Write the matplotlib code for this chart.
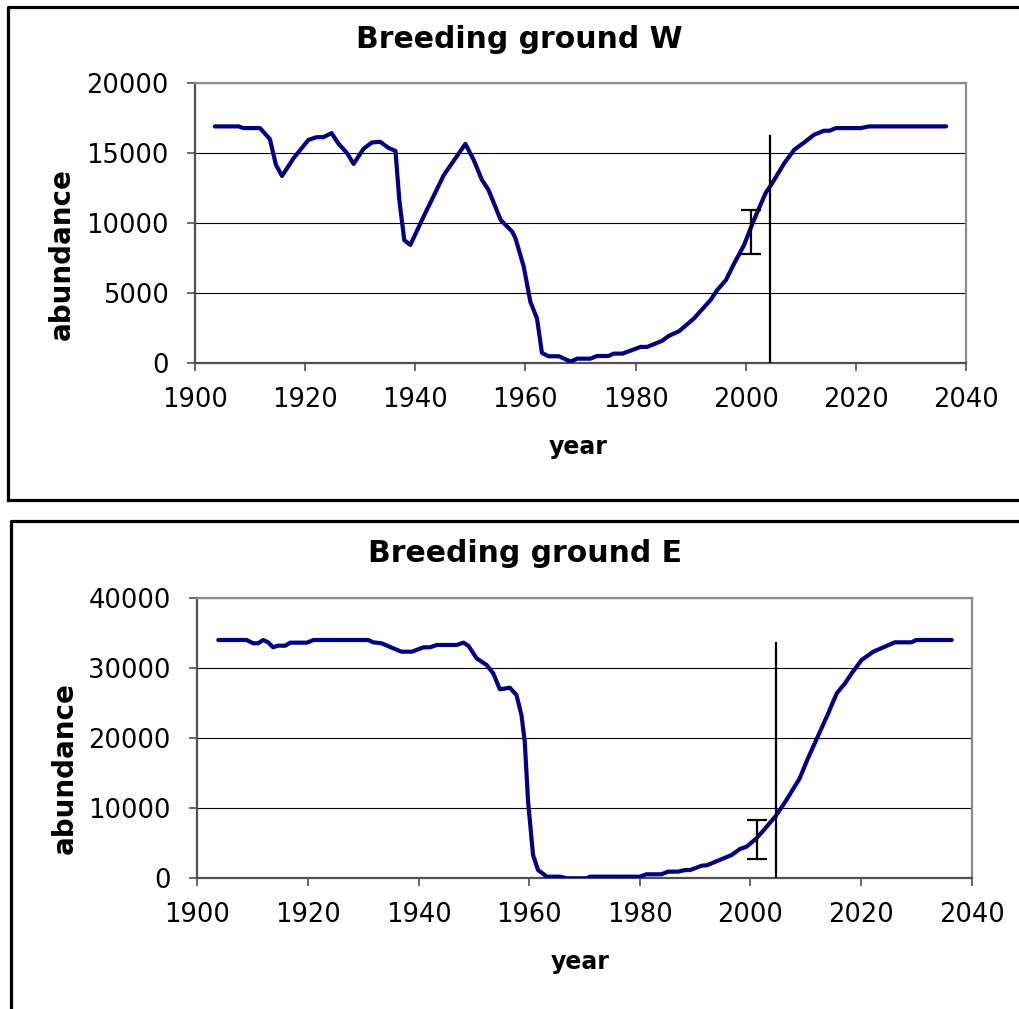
import numpy as np
import matplotlib.pyplot as plt
from matplotlib.lines import Line2D

# Breeding ground W
w_years = [1903.6, 1907.9, 1908.8, 1911.8, 1913.6, 1914.7, 1915.8, 1917.9, 1920.6, 1922.1,
           1923.3, 1924.8, 1926.0, 1927.6, 1928.8, 1930.6, 1932.1, 1933.6, 1935.2, 1936.4,
           1937.1, 1938.0, 1939.1, 1941.5, 1945.2, 1949.1, 1950.6, 1952.1, 1953.3, 1955.5,
           1957.6, 1958.2, 1959.7, 1960.9, 1962.1, 1963.0, 1964.2, 1966.1, 1968.2, 1969.4,
           1971.8, 1973.0, 1975.1, 1976.0, 1977.6, 1978.8, 1980.9, 1982.1, 1984.8, 1986.0,
           1987.9, 1990.6, 1992.1, 1993.6, 1994.8, 1996.4, 1997.9, 1999.7, 2001.5, 2003.6,
           2004.8, 2007.0, 2008.8, 2010.6, 2012.4, 2014.2, 2015.2, 2016.4, 2020.9, 2022.4,
           2036.4]
w_vals = [16900, 16900, 16780, 16780, 15990, 14150, 13360, 14630, 15940, 16130,
          16130, 16420, 15700, 14990, 14220, 15300, 15750, 15800, 15350, 15150,
          11650, 8780, 8430, 10450, 13440, 15650, 14510, 13080, 12360, 10220,
          9380, 8900, 6870, 4370, 3180, 720, 480, 480, 100, 310,
          310, 500, 500, 670, 670, 840, 1150, 1150, 1580, 1930,
          2270, 3180, 3840, 4490, 5200, 5920, 7110, 8430, 10220, 12130,
          12840, 14270, 15230, 15750, 16300, 16590, 16590, 16780, 16780, 16900,
          16900]
w_now_year, w_now_top = 2004.5, 16230
w_err_year, w_err_lo, w_err_hi = 2001.0, 7760, 10930

# Breeding ground E
e_years = [1903.8, 1908.9, 1910.1, 1911.0, 1911.9, 1912.8, 1913.7, 1914.6, 1915.9, 1916.8,
           1919.8, 1921.0, 1930.9, 1931.8, 1933.3, 1936.9, 1938.8, 1940.9, 1942.1, 1943.3,
           1946.9, 1948.1, 1949.0, 1950.5, 1951.4, 1952.3, 1953.5, 1954.7, 1956.5, 1957.7,
           1958.6, 1959.2, 1959.8, 1960.7, 1961.6, 1963.2, 1965.6, 1966.8, 1970.4, 1971.0,
           1980.0, 1981.2, 1983.9, 1985.1, 1986.9, 1988.2, 1989.1, 1991.2, 1992.1, 1996.6,
           1998.1, 1999.3, 2001.1, 2003.2, 2004.7, 2006.5, 2008.9, 2010.4, 2012.3, 2013.8,
           2015.6, 2017.1, 2018.3, 2020.1, 2022.2, 2024.3, 2026.1, 2029.1, 2030.0, 2036.4]
e_vals = [33970, 33970, 33500, 33500, 33970, 33640, 32930, 33160, 33160, 33590,
          33590, 33970, 33970, 33640, 33500, 32300, 32300, 32930, 32930, 33260,
          33260, 33590, 33160, 31360, 30880, 30410, 29220, 26940, 27170, 26130,
          23280, 19470, 10920, 3320, 1180, 230, 230, 0, 0, 230,
          230, 570, 570, 950, 950, 1180, 1180, 1800, 1850, 3320,
          4180, 4510, 5700, 7600, 9020, 11160, 14250, 17110, 20430, 23040,
          26370, 27800, 29220, 31120, 32300, 33020, 33640, 33640, 33970, 33970]
e_now_year, e_now_top = 2004.6, 33500
e_err_year, e_err_lo, e_err_hi = 2001.1, 2750, 8310

plt.rcParams['font.family'] = 'DejaVu Sans'

W, H = 1020, 1009
fig = plt.figure(figsize=(W / 100, H / 100), dpi=100)


def px_axes(left, top, right, bottom):
    return fig.add_axes([left / W, 1 - bottom / H, (right - left) / W, (bottom - top) / H])


def draw_panel(ax, years, vals, ymax, ystep, now_year, now_top, err_year, err_lo, err_hi):
    ax.set_xlim(1900, 2040)
    ax.set_ylim(0, ymax)
    ax.set_xticks(np.arange(1900, 2041, 20))
    ax.set_yticks(np.arange(0, ymax + 1, ystep))
    ax.grid(axis='y', color='black', linewidth=0.8)
    ax.set_axisbelow(True)
    for side in ['top', 'right']:
        ax.spines[side].set_color('#8c8c8c')
        ax.spines[side].set_linewidth(1.6)
    for side in ['left', 'bottom']:
        ax.spines[side].set_color('#505050')
        ax.spines[side].set_linewidth(1.6)
    ax.tick_params(axis='both', direction='out', length=6, width=1.2, color='#505050',
                   labelsize=18.5)
    ax.tick_params(axis='y', pad=13)
    ax.tick_params(axis='x', pad=11)
    ax.plot(years, vals, color='#000080', linewidth=3.0, solid_joinstyle='round',
            solid_capstyle='round', zorder=3)
    ax.plot([now_year, now_year], [0, now_top], color='black', linewidth=1.6, zorder=4)
    mid = (err_lo + err_hi) / 2
    ax.errorbar([err_year], [mid], yerr=[[mid - err_lo], [err_hi - mid]], fmt='none',
                ecolor='black', elinewidth=1.6, capsize=7.5, capthick=1.6, zorder=4)


def frame_box(left, top, right, bottom):
    xs = [left / W, left / W, right / W, right / W, left / W]
    ys = [1 - bottom / H, 1 - top / H, 1 - top / H, 1 - bottom / H, 1 - bottom / H]
    fig.add_artist(Line2D(xs, ys, color='black', linewidth=2.3, clip_on=False))


# top panel
frame_box(8, 6.5, 1040, 500.5)
ax1 = px_axes(195, 83, 966, 363)
draw_panel(ax1, w_years, w_vals, 20000, 5000, w_now_year, w_now_top,
           w_err_year, w_err_lo, w_err_hi)
fig.text(519 / W, 1 - 40 / H, 'Breeding ground W', ha='center', va='center',
         fontsize=21.5, fontweight='bold')
fig.text(578 / W, 1 - 447 / H, 'year', ha='center', va='center',
         fontsize=17, fontweight='bold')
fig.text(62 / W, 1 - 254 / H, 'abundance', ha='center', va='center', rotation=90,
         fontsize=20, fontweight='bold')

# bottom panel
frame_box(11, 520.7, 1040, 1030)
ax2 = px_axes(197.3, 597.7, 971.7, 878.3)
draw_panel(ax2, e_years, e_vals, 40000, 10000, e_now_year, e_now_top,
           e_err_year, e_err_lo, e_err_hi)
fig.text(525 / W, 1 - 553 / H, 'Breeding ground E', ha='center', va='center',
         fontsize=21.5, fontweight='bold')
fig.text(580 / W, 1 - 962 / H, 'year', ha='center', va='center',
         fontsize=17, fontweight='bold')
fig.text(65 / W, 1 - 768 / H, 'abundance', ha='center', va='center', rotation=90,
         fontsize=20, fontweight='bold')

fig.savefig('out.png', dpi=100)
